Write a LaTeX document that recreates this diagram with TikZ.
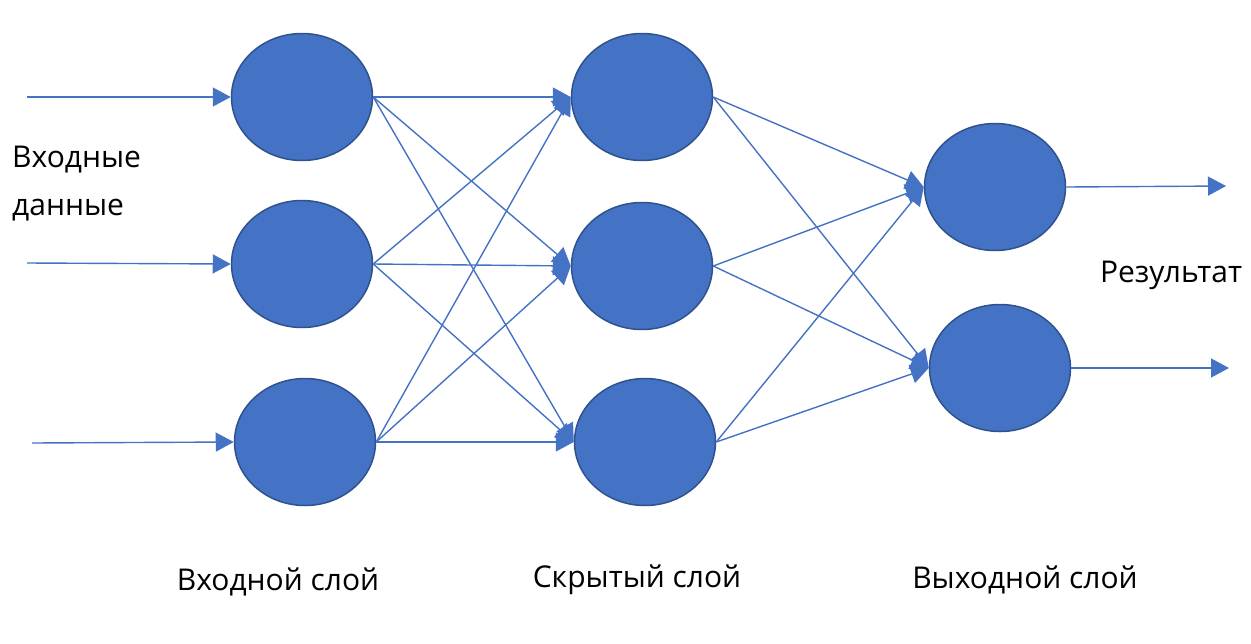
\documentclass[tikz,border=0pt]{standalone}
\usepackage{fontspec}
\setmainfont{Open Sans}
\usetikzlibrary{arrows.meta,shapes.geometric}
\definecolor{nfill}{HTML}{4472C4}
\definecolor{nedge}{HTML}{2F528F}
\definecolor{lcol}{HTML}{4472C4}
\begin{document}
\begin{tikzpicture}[x=1pt,y=-1pt,
  neuron/.style={ellipse,draw=nedge,line width=1.5pt,fill=nfill,minimum width=141pt,minimum height=127pt,inner sep=0pt},
  conn/.style={draw=lcol,line width=1.4pt,-{Triangle[length=18pt,width=19pt]}},
  lbl/.style={font=\fontsize{30}{48}\selectfont,text=black,inner sep=0pt}]
\useasboundingbox (0,0) rectangle (1251,643);
\node[neuron] (i1) at (302,97) {};
\node[neuron] (i2) at (302,264) {};
\node[neuron] (i3) at (305,442) {};
\node[neuron] (h1) at (642,97) {};
\node[neuron] (h2) at (642,266) {};
\node[neuron] (h3) at (645,442) {};
\node[neuron] (o1) at (995,187) {};
\node[neuron] (o2) at (1000,368) {};
\coordinate (s1) at (27,97);
\coordinate (s2) at (27,263);
\coordinate (s3) at (32,443);
\coordinate (e1) at (1226,186);
\coordinate (e2) at (1229,368);
\draw[conn] (s1) -- (i1.west);
\draw[conn] (s2) -- (i2.west);
\draw[conn] (s3) -- (i3.west);
\foreach \a in {i1,i2,i3}{
  \foreach \b in {h1,h2,h3}{
    \draw[conn] (\a.east) -- (\b.west);
  }
}
\foreach \a in {h1,h2,h3}{
  \foreach \b in {o1,o2}{
    \draw[conn] (\a.east) -- (\b.west);
  }
}
\draw[conn] (o1.east) -- (e1);
\draw[conn] (o2.east) -- (e2);
\node[lbl,anchor=west,align=left] (inl) at (12,184) {Входные\\данные};
\node[lbl] (res) at (1171,275) {Результат};
\node[lbl] (l1) at (278,582) {Входной слой};
\node[lbl] (l2) at (637,580) {Скрытый слой};
\node[lbl] (l3) at (1025,580) {Выходной слой};
\end{tikzpicture}
\end{document}
